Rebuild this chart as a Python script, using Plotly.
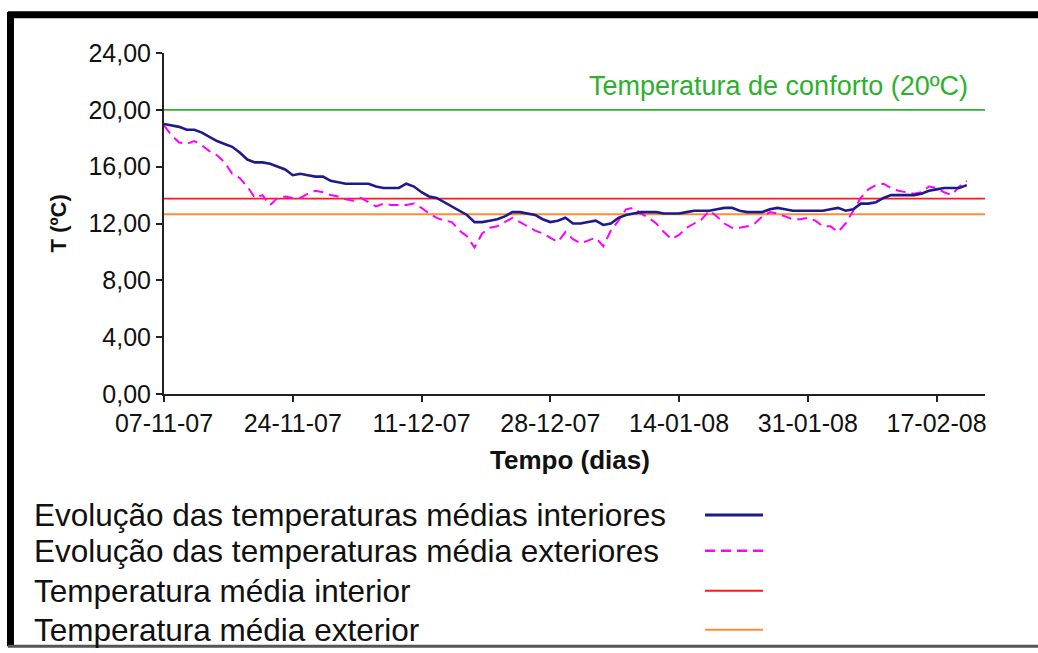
import pandas as pd
import plotly.graph_objects as go

START_DATE = '2007-11-07'

# temperaturas médias diárias interiores (ºC)
interior = [
    19.0, 18.9, 18.8, 18.6, 18.6, 18.4, 18.1, 17.8, 17.6, 17.4,
    17.0, 16.5, 16.3, 16.3, 16.2, 16.0, 15.8, 15.4, 15.5, 15.4,
    15.3, 15.3, 15.0, 14.9, 14.8, 14.8, 14.8, 14.8, 14.6, 14.5,
    14.5, 14.5, 14.8, 14.6, 14.2, 13.9, 13.8, 13.5, 13.2, 12.9,
    12.6, 12.1, 12.1, 12.2, 12.3, 12.5, 12.8, 12.8, 12.7, 12.6,
    12.3, 12.1, 12.2, 12.4, 12.0, 12.0, 12.1, 12.2, 11.9, 12.0,
    12.4, 12.6, 12.7, 12.8, 12.8, 12.8, 12.7, 12.7, 12.7, 12.8,
    12.9, 12.9, 12.9, 13.0, 13.1, 13.1, 12.9, 12.8, 12.8, 12.8,
    13.0, 13.1, 13.0, 12.9, 12.9, 12.9, 12.9, 12.9, 13.0, 13.1,
    12.9, 13.0, 13.4, 13.4, 13.5, 13.8, 14.0, 14.0, 14.0, 14.0,
    14.1, 14.3, 14.4, 14.5, 14.5, 14.5, 14.7,
]

# temperaturas médias diárias exteriores (ºC)
exterior = [
    18.9, 18.2, 17.7, 17.6, 17.8, 17.5, 17.1, 16.8, 16.3, 15.5,
    15.2, 14.6, 13.8, 14.0, 13.3, 13.8, 13.9, 13.8, 13.8, 14.1,
    14.3, 14.2, 14.0, 13.9, 13.7, 13.6, 13.8, 13.5, 13.2, 13.4,
    13.3, 13.3, 13.3, 13.4, 13.1, 12.7, 12.4, 12.2, 12.1, 11.5,
    11.1, 10.3, 11.3, 11.7, 11.8, 12.1, 12.4, 12.1, 11.8, 11.5,
    11.3, 11.0, 10.7, 11.4, 10.9, 10.6, 10.8, 11.0, 10.4, 11.5,
    12.2, 13.0, 13.1, 12.7, 12.4, 12.0, 11.4, 10.9, 11.2, 11.7,
    12.0, 12.3, 12.9, 12.5, 12.0, 11.7, 11.7, 11.8, 12.0, 12.5,
    12.8, 12.7, 12.5, 12.3, 12.3, 12.4, 12.2, 11.8, 11.8, 11.4,
    12.0, 12.9, 13.8, 14.4, 14.7, 14.8, 14.5, 14.3, 14.2, 14.1,
    14.2, 14.6, 14.5, 14.2, 14.0, 14.6, 15.0,
]

media_interior = 13.75
media_exterior = 12.65
conforto = 20.0

tick_dates = ['2007-11-07', '2007-11-24', '2007-12-11', '2007-12-28',
              '2008-01-14', '2008-01-31', '2008-02-17']
tick_labels = ['07-11-07', '24-11-07', '11-12-07', '28-12-07',
               '14-01-08', '31-01-08', '17-02-08']
y_ticks = [0, 4, 8, 12, 16, 20, 24]
y_labels = ['0,00', '4,00', '8,00', '12,00', '16,00', '20,00', '24,00']

legend_items = [
    ('Evolução das temperaturas médias interiores', '#1F1A8C', 'solid', 3),
    ('Evolução das temperaturas média exteriores', '#FF00FF', '10px,6px', 2.5),
    ('Temperatura média interior', '#FF1A1A', 'solid', 2),
    ('Temperatura média exterior', '#FF8C2E', 'solid', 2),
]

dates = pd.date_range(start=START_DATE, periods=len(interior), freq='D')
x_start = pd.Timestamp(START_DATE)
x_end = x_start + pd.Timedelta(days=108.4)

fig = go.Figure()

fig.add_trace(go.Scatter(x=[x_start, x_end], y=[conforto, conforto], mode='lines',
                         line=dict(color='#2DB02D', width=1.8), hoverinfo='skip'))
fig.add_trace(go.Scatter(x=[x_start, x_end], y=[media_interior, media_interior], mode='lines',
                         line=dict(color='#FF1A1A', width=1.8), hoverinfo='skip'))
fig.add_trace(go.Scatter(x=[x_start, x_end], y=[media_exterior, media_exterior], mode='lines',
                         line=dict(color='#FF8C2E', width=1.8), hoverinfo='skip'))
fig.add_trace(go.Scatter(x=dates, y=exterior, mode='lines',
                         line=dict(color='#FF00FF', width=2, dash='10px,6px')))
fig.add_trace(go.Scatter(x=dates, y=interior, mode='lines',
                         line=dict(color='#1F1A8C', width=2.6)))

annotations = [
    dict(text='Temperatura de conforto (20ºC)', xref='paper', yref='y', x=0.982, y=21.7,
         xanchor='right', yanchor='middle', showarrow=False,
         font=dict(family='Arial', size=27, color='#2DB02D')),
    dict(text='<b>T (ºC)</b>', xref='paper', yref='paper', x=-0.128, y=0.5,
         xanchor='center', yanchor='middle', textangle=-90, showarrow=False,
         font=dict(family='Arial', size=22, color='#111')),
    dict(text='<b>Tempo (dias)</b>', xref='paper', yref='paper', x=0.495, y=-0.195,
         xanchor='center', yanchor='middle', showarrow=False,
         font=dict(family='Arial', size=26, color='#111')),
]
shapes = []
rows_y = [-0.3545, -0.46, -0.577, -0.691]
for (label, color, dash, width), yy in zip(legend_items, rows_y):
    annotations.append(dict(text=label, xref='paper', yref='paper', x=-0.161, y=yy,
                            xanchor='left', yanchor='middle', showarrow=False,
                            font=dict(family='Arial', size=31.5, color='#111')))
    shapes.append(dict(type='line', xref='paper', yref='paper', x0=0.659, x1=0.7296,
                       y0=yy, y1=yy, line=dict(color=color, width=width, dash=dash)))

# moldura
shapes += [
    dict(type='line', xref='paper', yref='paper', x0=-0.187, x1=-0.187, y0=-0.74, y1=1.12,
         line=dict(color='black', width=7)),
    dict(type='line', xref='paper', yref='paper', x0=-0.19, x1=1.1, y0=1.112, y1=1.112,
         line=dict(color='black', width=7)),
    dict(type='line', xref='paper', yref='paper', x0=-0.19, x1=1.1, y0=-0.74, y1=-0.74,
         line=dict(color='#555', width=3)),
]

fig.update_layout(
    width=1038, height=653,
    margin=dict(l=164, r=53, t=53, b=259),
    plot_bgcolor='white', paper_bgcolor='white',
    showlegend=False,
    annotations=annotations,
    shapes=shapes,
    xaxis=dict(
        type='date', range=[x_start, x_end],
        tickvals=tick_dates, ticktext=tick_labels,
        showgrid=False, zeroline=False,
        showline=True, linecolor='#222', linewidth=2,
        ticks='outside', ticklen=6, tickcolor='#222', tickwidth=1.5,
        tickfont=dict(family='Arial', size=25, color='#111'),
    ),
    yaxis=dict(
        range=[0, 24], tickvals=y_ticks, ticktext=y_labels,
        showgrid=False, zeroline=False,
        showline=True, linecolor='#222', linewidth=2,
        ticks='outside', ticklen=6, tickcolor='#222', tickwidth=1.5,
        tickfont=dict(family='Arial', size=25, color='#111'),
    ),
)

fig.write_html('out.html', config={'displayModeBar': False},
               post_script="document.body.style.margin='0';document.body.style.overflow='hidden';")
